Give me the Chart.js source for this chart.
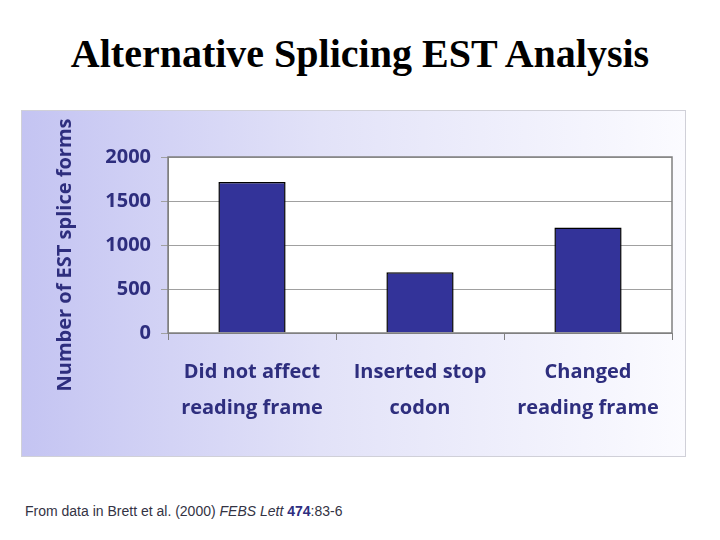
<!DOCTYPE html>
<html>
<head>
<meta charset="utf-8">
<script src="https://cdn.jsdelivr.net/npm/chart.js@4"></script>
<style>
  body { margin: 0; width: 720px; height: 540px; background: #fff; position: relative; overflow: hidden; }
  #title { position: absolute; left: 0; width: 720px; top: 30px; text-align: center;
           font-family: "Liberation Serif", serif; font-weight: bold; font-size: 40px; color: #000; }
  #panel { position: absolute; left: 21px; top: 110px; width: 665px; height: 347px;
           background: linear-gradient(to right, #c4c4f2 0%, #e2e2f8 45%, #fbfbff 100%);
           border: 1px solid #d0d0d8; box-sizing: border-box; }
  #note { position: absolute; left: 25px; top: 503px; font-family: "Liberation Sans", sans-serif;
          font-size: 14px; color: #333344; }
  #note b { color: #2e2e80; }
</style>
</head>
<body>
<div id="title">Alternative Splicing EST Analysis</div>
<div id="panel"><canvas id="chart" width="665" height="347"></canvas></div>
<div id="note">From data in Brett et al. (2000) <i>FEBS Lett</i> <b>474</b>:83-6</div>
<script>
const categories = [['Did not affect', 'reading frame'], ['Inserted stop', 'codon'], ['Changed', 'reading frame']];
const spliceForms = [1715, 690, 1200];
const yTicks = [0, 500, 1000, 1500, 2000];
const yTitle = 'Number of EST splice forms';

const navy = '#2e2e7e';
const font = '"Open Sans", sans-serif';

// white plot area, grey frame round it, and the rotated y title
const frame = {
    id: 'frame',
    beforeDraw(chart) {
        const a = chart.chartArea;
        const c = chart.ctx;
        c.save();
        c.fillStyle = '#ffffff';
        c.fillRect(a.left, a.top, a.right - a.left, a.bottom - a.top);
        c.restore();
    },
    afterDraw(chart) {
        const a = chart.chartArea;
        const c = chart.ctx;
        c.save();
        c.strokeStyle = '#808080';
        c.lineWidth = 1.5;
        c.strokeRect(a.left, a.top, a.right - a.left, a.bottom - a.top);
        c.translate(43, 144);
        c.rotate(-Math.PI / 2);
        c.fillStyle = navy;
        c.font = 'bold 20px ' + font;
        c.textAlign = 'center';
        c.textBaseline = 'middle';
        c.fillText(yTitle, 0, 0);
        c.restore();
    }
};

const ctx = document.getElementById('chart').getContext('2d');
new Chart(ctx, {
    type: 'bar',
    data: {
        labels: categories,
        datasets: [{
            data: spliceForms,
            backgroundColor: '#333399',
            borderColor: '#000000',
            borderWidth: 1.5,
            categoryPercentage: 0.8,
            barPercentage: 0.5
        }]
    },
    options: {
        responsive: false,
        animation: false,
        plugins: { legend: { display: false }, tooltip: { enabled: false } },
        layout: { padding: { left: 60, top: 46, right: 15, bottom: 0 } },
        scales: {
            x: {
                grid: { offset: true, drawOnChartArea: false, color: '#808080', tickLength: 7 },
                border: { color: '#808080' },
                ticks: {
                    color: navy, padding: 14,
                    font: { family: font, size: 20, weight: 'bold', lineHeight: 1.8 }
                },
                afterFit: (s) => { s.height = 347 - 222; }
            },
            y: {
                min: 0, max: 2000,
                afterBuildTicks: (s) => { s.ticks = yTicks.map(v => ({ value: v })); },
                grid: { color: '#a0a0a0', tickLength: 7 },
                border: { color: '#808080' },
                ticks: {
                    color: navy, padding: 10,
                    callback: (v) => String(v),
                    font: { family: font, size: 20, weight: 'bold' }
                },
                afterFit: (s) => { s.width = 146 - 60; }
            }
        }
    },
    plugins: [frame]
});
</script>
</body>
</html>
